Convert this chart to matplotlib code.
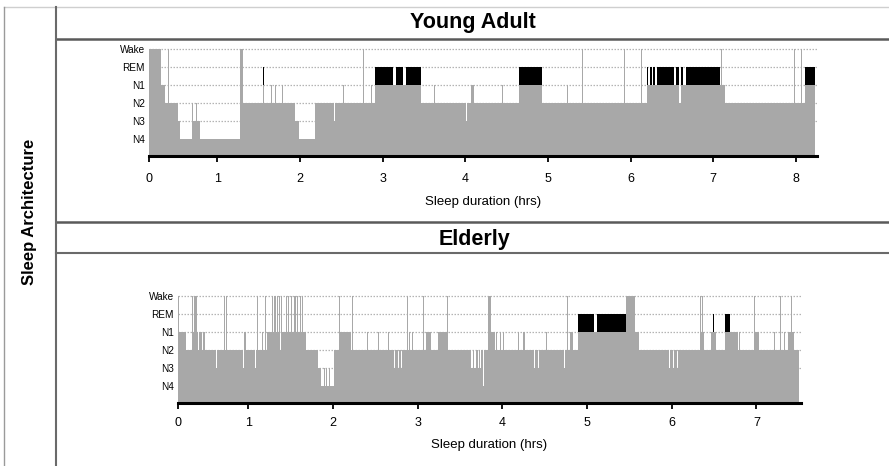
import numpy as np
import matplotlib
matplotlib.use('Agg')
import matplotlib.pyplot as plt
from matplotlib.lines import Line2D

plt.rcParams['font.family'] = ['Liberation Sans', 'DejaVu Sans']

# stage codes: W wake, R REM, 1..4 NREM stages
STAGE_LEVEL = {'W': 5, 'R': 4, '1': 3, '2': 2, '3': 1, '4': 0}
STAGE_NAMES = ['N4', 'N3', 'N2', 'N1', 'REM', 'Wake']
HOUR_TICKS_YOUNG = [0, 1, 2, 3, 4, 5, 6, 7, 8]
HOUR_TICKS_OLD = [0, 1, 2, 3, 4, 5, 6, 7]

# Young adult night: start of each epoch run (hrs) and its stage
young_t = [0.175, 0.32, 0.37, 0.405, 0.418, 0.525, 0.545, 0.695, 0.71, 0.742, 0.755, 0.79,
           1.27, 1.31, 1.55, 1.565, 1.65, 1.662, 1.70, 1.712, 1.785, 1.797, 1.94, 1.99,
           2.18, 2.415, 2.427, 2.525, 2.537, 2.765, 2.777, 2.855, 2.867, 2.907, 3.127, 3.16,
           3.25, 3.28, 3.46, 3.617, 3.629, 4.012, 4.024, 4.065, 4.112, 4.446, 4.458, 4.655,
           4.925, 5.236, 5.248, 5.415, 5.427, 5.925, 5.937, 6.132, 6.144, 6.196, 6.215, 6.235,
           6.255, 6.27, 6.295, 6.325, 6.527, 6.55, 6.58, 6.605, 6.64, 6.666, 7.082, 7.095,
           7.107, 7.145, 7.975, 7.987, 8.066, 8.078, 8.112]
young_stage = ['W', '1', '2', 'W', '2', '3', '4', '2', '3', '2', '3', '4',
               'W', '2', 'R', '2', '1', '2', '1', '2', '1', '2', '3', '4',
               '2', '3', '2', '1', '2', 'W', '2', '1', '2', 'R', '1', 'R',
               '1', 'R', '2', '1', '2', '3', '2', '1', '2', '1', '2', 'R',
               '2', '1', '2', 'W', '2', 'W', '2', 'W', '2', 'R', '1', 'R',
               '1', 'R', '1', 'R', '1', 'R', '2', 'R', '1', 'R', '1', 'W',
               '1', '2', 'W', '2', 'W', '2', 'R']
young_end = 8.235

# Elderly night
old_t = [0.171, 0.182, 0.27, 0.34, 0.35, 0.356, 0.366, 0.372, 0.382, 0.387, 0.397, 0.403,
         0.413, 0.42, 0.45, 0.47, 0.49, 0.625, 0.636, 0.715, 0.725, 0.735, 0.745, 0.752,
         0.94, 0.95, 0.956, 0.968, 1.076, 1.087, 1.108, 1.118, 1.134, 1.144, 1.164, 1.175,
         1.195, 1.205, 1.217, 1.264, 1.274, 1.284, 1.294, 1.304, 1.314, 1.321, 1.331, 1.344,
         1.354, 1.36, 1.37, 1.384, 1.394, 1.444, 1.454, 1.47, 1.48, 1.51, 1.52, 1.541,
         1.551, 1.557, 1.567, 1.577, 1.587, 1.609, 1.619, 1.64, 1.65, 1.666, 1.676, 1.688,
         1.826, 1.865, 1.895, 1.905, 1.922, 1.932, 1.95, 1.96, 2.015, 2.072, 2.082, 2.219,
         2.228, 2.238, 2.374, 2.384, 2.406, 2.416, 2.492, 2.502, 2.531, 2.541, 2.649, 2.659,
         2.705, 2.715, 2.726, 2.736, 2.766, 2.776, 2.806, 2.816, 2.873, 2.883, 2.897, 2.907,
         2.938, 2.948, 3.062, 3.072, 3.10, 3.16, 3.24, 3.348, 3.358, 3.436, 3.446, 3.632,
         3.641, 3.645, 3.654, 3.664, 3.673, 3.683, 3.692, 3.711, 3.72, 3.742, 3.751, 3.768,
         3.785, 3.835, 3.87, 3.909, 3.928, 3.938, 3.975, 3.985, 4.014, 4.024, 4.184, 4.194,
         4.243, 4.253, 4.262, 4.272, 4.373, 4.383, 4.42, 4.43, 4.518, 4.528, 4.734, 4.744,
         4.765, 4.775, 4.794, 4.833, 4.892, 5.086, 5.12, 5.462, 5.565, 5.61, 5.62, 5.972,
         5.982, 6.016, 6.026, 6.06, 6.07, 6.141, 6.151, 6.338, 6.348, 6.362, 6.372, 6.386,
         6.47, 6.49, 6.502, 6.52, 6.63, 6.648, 6.658, 6.693, 6.78, 6.798, 6.808, 6.896,
         6.906, 6.975, 6.985, 7.035, 7.211, 7.221, 7.282, 7.292, 7.329, 7.339, 7.368, 7.408,
         7.418, 7.448, 7.486, 7.496]
old_stage = ['W', '1', '2', 'W', '1', 'W', '1', 'W', '2', 'W', '1', 'W',
             '2', '1', '2', '1', '2', '3', '2', 'W', '2', 'W', '1', '2',
             '3', '2', '1', '2', '3', '2', 'W', '2', 'W', '2', '1', '2',
             'W', '2', '1', 'W', '1', 'W', '1', 'W', '2', 'W', '1', 'W',
             '1', 'W', '2', 'W', '1', 'W', '1', 'W', '1', 'W', '1', 'W',
             '1', 'W', '1', 'W', '1', 'W', '1', 'W', '1', 'W', '1', '2',
             '3', '4', '3', '4', '3', '4', '3', '4', '2', 'W', '1', '2',
             'W', '2', '3', '2', '1', '2', 'W', '2', '1', '2', '1', '2',
             '1', '2', '3', '2', '3', '2', '3', '2', 'W', '2', '1', '2',
             '1', '2', 'W', '2', '1', '2', '1', 'W', '2', '1', '2', '3',
             '2', '3', '2', '3', '2', '3', '2', '3', '2', '3', '2', '4',
             '2', 'W', '1', '2', '1', '2', '1', '2', '1', '2', '1', '2',
             '1', '2', '1', '2', '3', '2', '3', '2', '1', '2', '3', '2',
             'W', '2', '1', '2', 'R', '1', 'R', 'W', '1', 'W', '2', '3',
             '2', '3', '2', '3', '2', '1', '2', 'W', '1', 'W', '1', '2',
             '1', 'R', '1', '2', 'R', '1', 'R', '1', '2', '1', '2', '1',
             '2', 'W', '1', '2', '1', '2', 'W', '2', '1', '2', '1', 'W',
             '1', '2', '1', '2']
old_end = 7.507

GRAY = '#a8a8a8'
W, H = 889, 466


def hypnogram(ax, t, stages, t_end, x0, ticks):
    lv = np.array([STAGE_LEVEL[s] for s in stages], dtype=float)
    edges = np.append(t, t_end)
    gray_top = np.where(lv == 4, 3, lv)  # REM: gray up to N1, black band above
    ax.fill_between(edges, -1, np.append(gray_top, gray_top[-1]), step='post',
                    color=GRAY, lw=0, zorder=2)
    rem = [(edges[i], edges[i + 1] - edges[i]) for i in range(len(lv)) if lv[i] == 4]
    ax.broken_barh(rem, (3, 1), facecolors='black', lw=0, zorder=3)
    for y in range(1, 6):
        ax.axhline(y, color='#b4b4b4', ls=(0, (1.2, 1.2)), lw=0.9, zorder=1)
    ax.set_xlim(x0, t_end + 0.02); ax.set_ylim(-0.95, 5.05)
    ax.set_yticks(range(6)); ax.set_yticklabels(STAGE_NAMES, fontsize=7.2)
    ax.tick_params(axis='y', length=0, pad=3)
    # first tick sits on the start of the record and reads 0
    ax.set_xticks([x0] + ticks[1:]); ax.set_xticklabels([str(h) for h in ticks], fontsize=9)
    ax.tick_params(axis='x', length=4, width=1.3, pad=6)
    for s in ['top', 'right', 'left']: ax.spines[s].set_visible(False)
    ax.spines['bottom'].set_linewidth(2.2)
    ax.set_xlabel('Sleep duration (hrs)', fontsize=9.5)


fig = plt.figure(figsize=(W / 100, H / 100), dpi=100)
ax1 = fig.add_axes([149 / W, 1 - 156 / H, 668 / W, 108 / H])
hypnogram(ax1, young_t, young_stage, young_end, 0.175, HOUR_TICKS_YOUNG)
ax1.tick_params(axis='x', pad=8); ax1.xaxis.labelpad = 8
ax2 = fig.add_axes([178 / W, 1 - 403 / H, 623 / W, 108 / H])
hypnogram(ax2, old_t, old_stage, old_end, 0.171, HOUR_TICKS_OLD)
ax2.xaxis.labelpad = 7


def hline(y, x0, x1, color, lw):
    fig.add_artist(Line2D([x0 / W, x1 / W], [1 - y / H, 1 - y / H], color=color, lw=lw))


def vline(x, y0, y1, color, lw):
    fig.add_artist(Line2D([x / W, x / W], [1 - y0 / H, 1 - y1 / H], color=color, lw=lw))


hline(7, 4, W, '#cfcfcf', 1.0)
hline(39, 56, W, '#5a5a5a', 1.8)
hline(222.5, 56, W, '#5a5a5a', 1.8)
hline(253, 56, W, '#6a6a6a', 1.5)
vline(56, 7, H, '#6a6a6a', 1.5)
vline(4, 7, H, '#9a9a9a', 1.0)

fig.text(473 / W, 1 - 22.5 / H, 'Young Adult', ha='center', va='center', fontsize=15.5, fontweight='bold')
fig.text(475 / W, 1 - 239 / H, 'Elderly', ha='center', va='center', fontsize=15.5, fontweight='bold')
fig.text(30 / W, 1 - 212 / H, 'Sleep Architecture', ha='center', va='center', rotation=90,
         fontsize=12, fontweight='bold')

fig.savefig('out.png', dpi=100)
